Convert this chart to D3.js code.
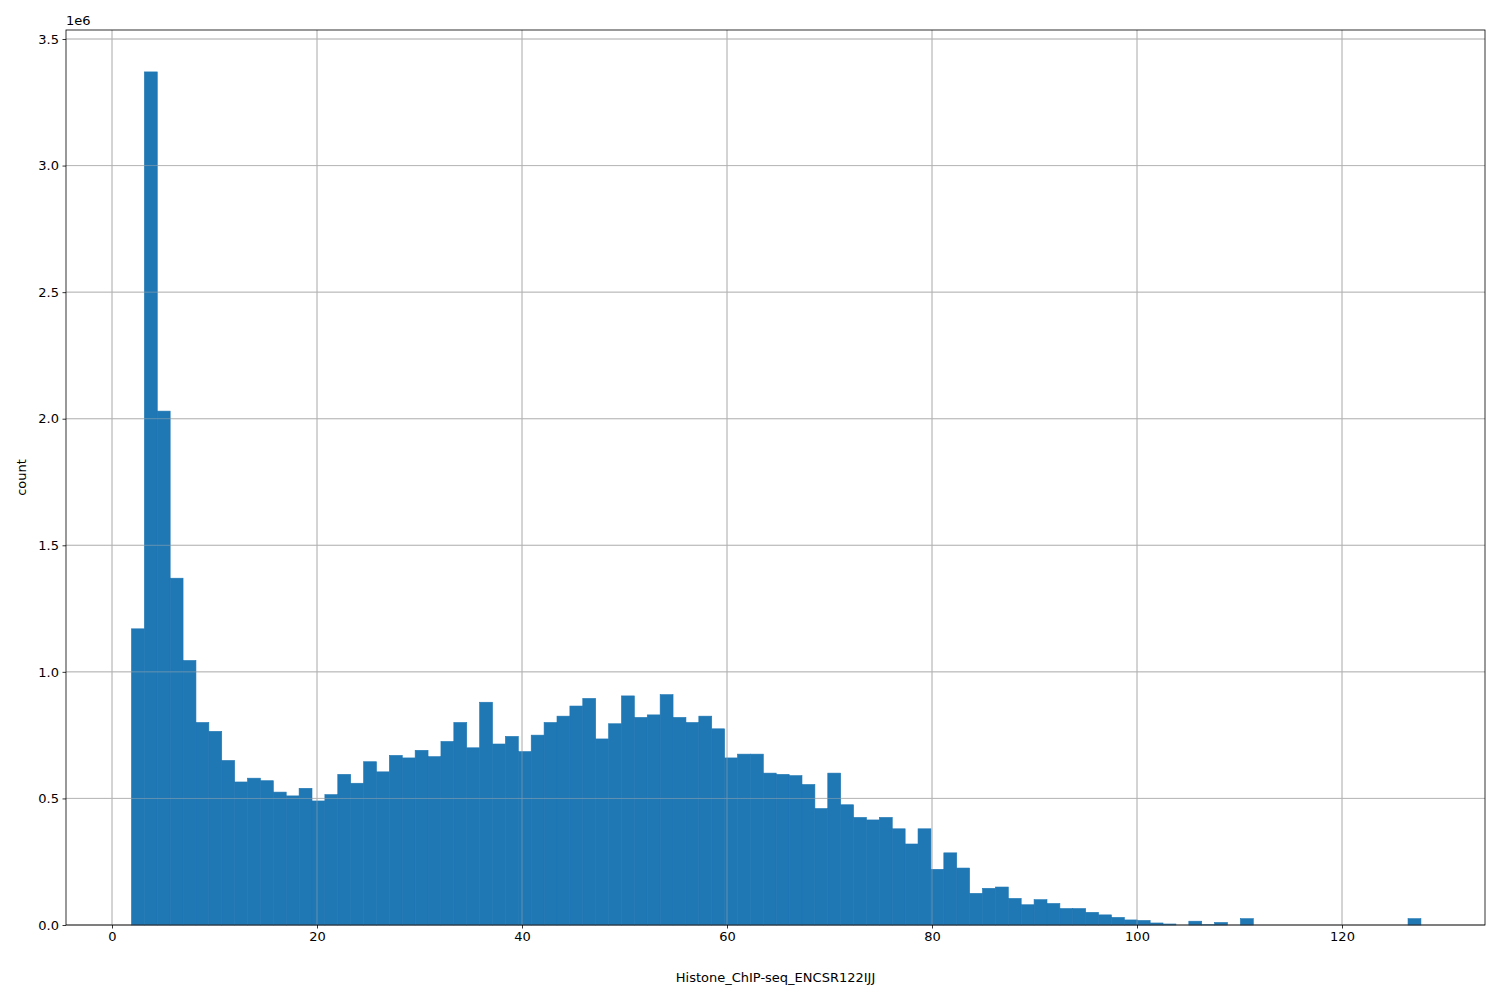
<!DOCTYPE html>
<html><head><meta charset="utf-8">
<script src="https://cdn.jsdelivr.net/npm/d3@7"></script>
<style>body{margin:0;background:#fff}text{font-family:"DejaVu Sans",sans-serif}</style>
</head><body>
<svg id="c" width="1500" height="1000"></svg>
<script>
// histogram bins (100 bins), counts in millions
var binStart = 1.9
var binWidth = 1.258
var counts = [1.17,3.37,2.03,1.37,1.045,0.80,0.765,0.65,0.565,0.58,
  0.57,0.525,0.51,0.54,0.49,0.515,0.595,0.56,0.645,0.605,
  0.67,0.66,0.69,0.665,0.725,0.80,0.70,0.88,0.715,0.745,
  0.685,0.75,0.80,0.825,0.865,0.895,0.735,0.795,0.905,0.82,
  0.83,0.91,0.82,0.80,0.825,0.775,0.66,0.675,0.675,0.60,
  0.595,0.59,0.555,0.46,0.60,0.475,0.425,0.415,0.425,0.38,
  0.32,0.38,0.22,0.285,0.225,0.125,0.145,0.15,0.105,0.08,
  0.10,0.085,0.065,0.065,0.05,0.04,0.03,0.02,0.018,0.008,
  0.004,0,0.015,0.001,0.01,0,0.025,0,0,0,
  0,0,0,0,0,0,0,0,0,0.025]
var xTicks = [0,20,40,60,80,100,120]
var yTicks = [0,0.5,1.0,1.5,2.0,2.5,3.0,3.5]

var L = 66, R = 1485, T = 30, B = 925
var svg = d3.select('#c')
var x = d3.scaleLinear().domain([0,120]).range([112,1342])
var y = d3.scaleLinear().domain([0,3.5]).range([B,39])

var drawGrid = function(g) {
  xTicks.forEach(function(t){
    g.append('line').attr('x1',x(t)).attr('x2',x(t)).attr('y1',T).attr('y2',B).attr('stroke','#b0b0b0').attr('stroke-width',0.8)
  })
  yTicks.forEach(function(t){
    g.append('line').attr('x1',L).attr('x2',R).attr('y1',y(t)).attr('y2',y(t)).attr('stroke','#b0b0b0').attr('stroke-width',0.8)
  })
}
drawGrid(svg.append('g'))

svg.append('g').selectAll('rect').data(counts).enter().append('rect')
  .attr('x', function(d,i){ return x(binStart + i*binWidth) })
  .attr('width', x(binWidth) - x(0))
  .attr('y', function(d){ return y(d) })
  .attr('height', function(d){ return B - y(d) })
  .attr('fill', '#1f77b4')
  .attr('stroke', '#1f77b4')
  .attr('stroke-width', 0.6)

drawGrid(svg.append('g').attr('opacity',0.6))

svg.append('rect').attr('x',L).attr('y',T).attr('width',R-L).attr('height',B-T)
  .attr('fill','none').attr('stroke','#000').attr('stroke-width',0.8)

var xa = svg.append('g').attr('transform','translate(0,'+B+')')
  .call(d3.axisBottom(x).tickValues(xTicks).tickSize(3.5).tickPadding(3.5).tickFormat(d3.format('d')))
var ya = svg.append('g').attr('transform','translate('+L+',0)')
  .call(d3.axisLeft(y).tickValues(yTicks).tickSize(3.5).tickPadding(3.5).tickFormat(d3.format('.1f')))
;[xa,ya].forEach(function(a){
  a.select('.domain').remove()
  a.selectAll('text').attr('font-size',13).attr('fill','#000').style('font-family','DejaVu Sans')
  a.selectAll('line').attr('stroke','#000').attr('stroke-width',0.8)
})

svg.append('text').attr('x',L).attr('y',T-5).attr('font-size',13).text('1e6')
svg.append('text').attr('x',(L+R)/2).attr('y',982).attr('text-anchor','middle').attr('font-size',13).text('Histone_ChIP-seq_ENCSR122IJJ')
svg.append('text').attr('transform','translate(26,'+((T+B)/2)+') rotate(-90)').attr('text-anchor','middle').attr('font-size',13).text('count')
</script>
</body></html>
